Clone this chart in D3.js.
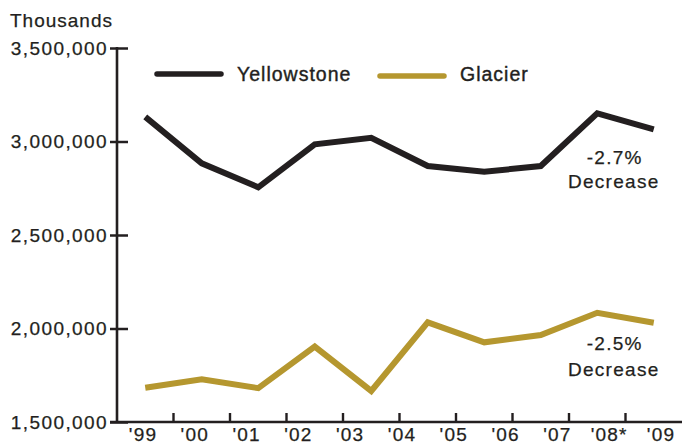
<!DOCTYPE html>
<html><head><meta charset="utf-8">
<script src="https://cdn.jsdelivr.net/npm/d3@7"></script>
<style>
html,body{margin:0;padding:0;background:#fff;}
svg{display:block;}
text{font-family:"Liberation Sans",Arial,Helvetica,sans-serif;fill:#231f20;}
</style></head>
<body><svg id="c" width="682" height="446"></svg>
<script>
const years = ["'00","'01","'02","'03","'04","'05","'06","'07","'08","'09"];
const tickLabels = ["'99","'00","'01","'02","'03","'04","'05","'06","'07","'08*","'09"];
const yellowstone = [3132000, 2883000, 2755000, 2985000, 3020000, 2869000, 2838000, 2869000, 3151000, 3065000];
const glacier = [1683000, 1728000, 1681000, 1903000, 1666000, 2033000, 1926000, 1965000, 2084000, 2031000];
const yTicks = [1500000, 2000000, 2500000, 3000000, 3500000];
const seriesNames = ["Yellowstone", "Glacier"];
const notes = ["-2.7%", "-2.5%"];

const ink = "#231f20", gold = "#b5972f";
const svg = d3.select("#c");
const x = d3.scaleBand().domain(years).range([117, 682]);
const xl = d3.scalePoint().domain(tickLabels).range([143, 661]);
const y = d3.scaleLinear().domain([1500000, 3500000]).range([422, 48]);
const fmt = d3.format(",");

// y axis
const ya = svg.append("g").attr("transform", "translate(117,0)")
  .call(d3.axisLeft(y).tickValues(yTicks).tickFormat(fmt).tickSize(7).tickPadding(2));
ya.select(".domain").remove();
ya.selectAll(".tick line").attr("stroke", ink).attr("stroke-width", 2.5).attr("x2", 11).attr("x1", -7);
ya.selectAll(".tick text").attr("font-size", 19).attr("letter-spacing", 1.4).attr("x", -9)
  .attr("font-family", '"Liberation Sans",Arial,sans-serif').attr("fill", ink)
  .attr("stroke", ink).attr("stroke-width", 0.25);
svg.append("line").attr("x1", 117).attr("x2", 117).attr("y1", y(3500000) - 1).attr("y2", 423)
  .attr("stroke", ink).attr("stroke-width", 2.6);

// x axis
svg.append("line").attr("x1", 110).attr("x2", 682).attr("y1", 422).attr("y2", 422)
  .attr("stroke", ink).attr("stroke-width", 2.6);
svg.append("g").selectAll("line").data(years.slice(1)).join("line")
  .attr("x1", d => x(d)).attr("x2", d => x(d)).attr("y1", 422).attr("y2", 413)
  .attr("stroke", ink).attr("stroke-width", 2.4);
svg.append("g").selectAll("text").data(tickLabels).join("text")
  .attr("x", d => xl(d)).attr("y", 441).attr("text-anchor", "middle")
  .attr("font-size", 19).attr("letter-spacing", 1.2)
  .attr("stroke", ink).attr("stroke-width", 0.25).text(d => d);

svg.append("text").attr("x", 10).attr("y", 27).attr("font-size", 19).attr("letter-spacing", 1)
  .attr("stroke", ink).attr("stroke-width", 0.25).text("Thousands");

// lines
const line = d3.line().x((d, i) => x(years[i]) + x.bandwidth() / 2).y(d => y(d));
svg.append("path").datum(glacier).attr("d", line).attr("fill", "none")
  .attr("stroke", gold).attr("stroke-width", 6).attr("stroke-linejoin", "miter");
svg.append("path").datum(yellowstone).attr("d", line).attr("fill", "none")
  .attr("stroke", ink).attr("stroke-width", 6).attr("stroke-linejoin", "miter");

// legend
const leg = [{name: seriesNames[0], c: ink, x: 157, y: 74}, {name: seriesNames[1], c: gold, x: 380, y: 76}];
leg.forEach(l => {
  svg.append("line").attr("x1", l.x).attr("x2", l.x + 64).attr("y1", l.y).attr("y2", l.y)
    .attr("stroke", l.c).attr("stroke-width", 5.5).attr("stroke-linecap", "round");
  svg.append("text").attr("x", l.x + 80).attr("y", 81).attr("font-size", 19.5)
    .attr("letter-spacing", 1).attr("stroke", ink).attr("stroke-width", 0.4).text(l.name);
});

// annotations
const lastX = x(years[9]) + x.bandwidth() / 2;
[[notes[0], yellowstone[9], 35], [notes[1], glacier[9], 27]].forEach(([t, v, dy], k) => {
  const g = svg.append("text").attr("text-anchor", "middle").attr("font-size", 19).attr("letter-spacing", 1.3)
    .attr("stroke", ink).attr("stroke-width", 0.25);
  g.append("tspan").attr("x", lastX - 39).attr("y", y(v) + dy).text(t);
  g.append("tspan").attr("x", lastX - 40).attr("y", y(v) + dy + (k === 0 ? 24 : 26)).text("Decrease");
});
</script></body></html>
